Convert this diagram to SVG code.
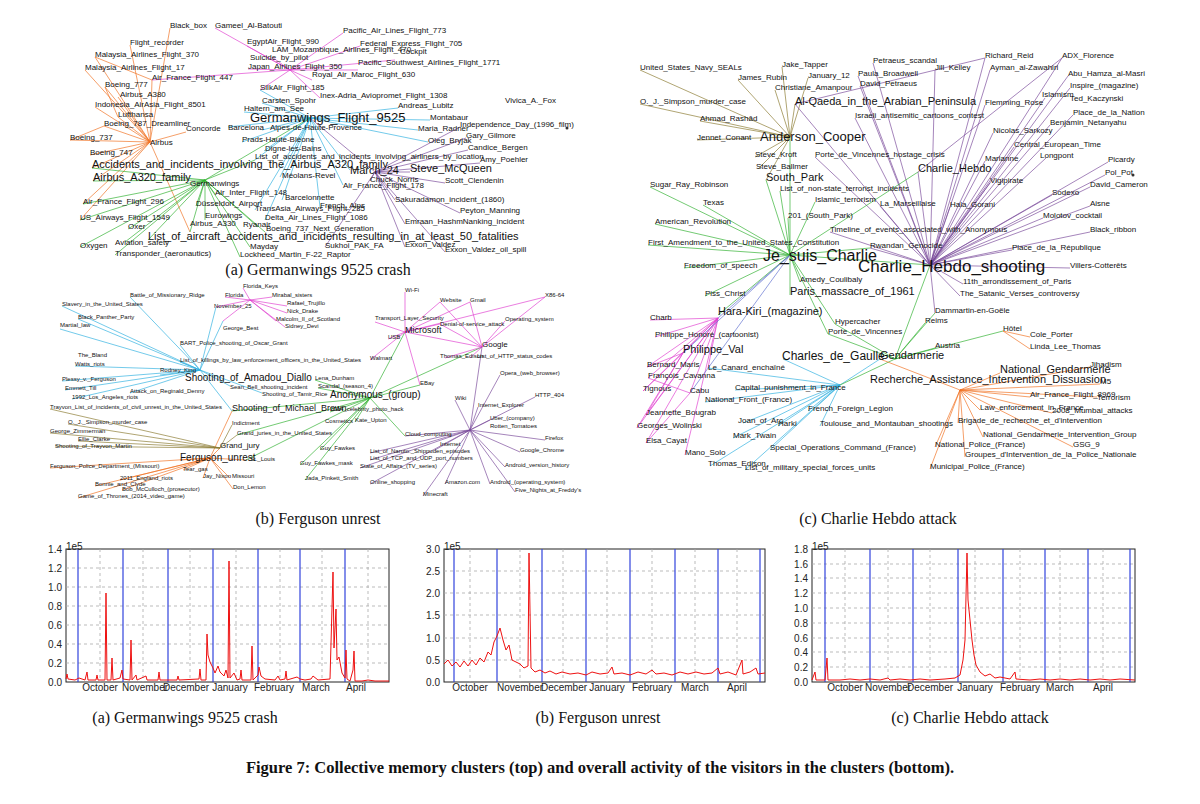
<svg xmlns="http://www.w3.org/2000/svg" width="1200" height="804" viewBox="0 0 1200 804">
<style>
text{font-family:"Liberation Sans",Arial,sans-serif;fill:#111}
.a{font-size:8px}.b{font-size:6px}.c{font-size:8px}
.big{font-size:13px}.mid{font-size:11px}.hb{font-size:16px}
.cap{font-family:"Liberation Serif","Times New Roman",serif;font-size:16px}
.ttl{font-family:"Liberation Serif","Times New Roman",serif;font-size:16.5px;font-weight:bold}
.e{fill:none;stroke-width:0.8;opacity:0.85}
.or{stroke:#f07020}.gr{stroke:#30b030}.cy{stroke:#30b0e0}.pu{stroke:#7a4a9a}.mg{stroke:#e040d0}.br{stroke:#8a7a30}.bl{stroke:#6070d0}
.ax text{font-size:10px;fill:#222}
.grid{stroke:#aaa;stroke-dasharray:3 3;stroke-width:0.8}
.mon{stroke:#3344dd;stroke-width:1.2}
.frame{fill:#fff;stroke:#222;stroke-width:1}
.sig{fill:none;stroke:#ee1111;stroke-width:1}
.d{fill:#333}
</style>
<rect width="1200" height="804" fill="#fff"/>
<g id="connectors">
<path class="e or" d="M150 142L170 28M150 142L130 45M150 142L95 57M150 142L85 70M150 142L152 80M150 142L105 87M150 142L118 97M150 142L95 107M150 142L118 117M150 142L104 126M150 142L70 140M150 142L186 132M150 142L90 155M150 142L92 168M150 142L93 181M150 142L83 204M150 142L80 220M150 142L190 232M118 117L105 87M104 126L70 140M152 80L95 57"/>
<path class="e mg" d="M290 70L215 28M290 70L343 33M290 70L247 46M290 70L360 46M290 70L272 57M290 70L395 60M290 70L248 69M290 70L358 70M290 70L312 80M290 70L260 90M290 70L152 80M290 70L320 98"/>
<path class="e cy" d="M310 118L262 103M310 118L398 108M310 118L244 112M310 118L430 120M310 118L228 127M310 118L262 130M310 118L418 130M310 118L242 142M310 118L428 142M310 118L264 151M310 118L255 160M310 118L280 177M310 118L343 185M310 118L282 200M310 118L320 207M310 118L265 220M310 118L255 210M310 118L350 170M310 118L260 90"/>
<path class="e gr" d="M205 180L92 168M205 180L93 181M205 180L215 194M205 180L196 206M205 180L205 220M205 180L190 232M205 180L128 229M205 180L148 240M205 180L80 247M205 180L125 242M205 180L250 247M205 180L115 255M205 180L240 257M205 180L265 232M205 180L258 227M205 180L255 160M205 180L310 118M205 180L83 204M205 180L80 220"/>
<path class="e pu" d="M375 172L460 127M375 172L466 138M375 172L468 150M375 172L480 163M375 172L410 172M375 172L370 181M375 172L445 183M375 172L395 200M375 172L460 213M375 172L405 224M375 172L325 247M375 172L405 247M375 172L445 252M375 172L310 118"/>
<path class="e cy" d="M200 370L130 297M200 370L180 345M200 370L180 362M200 370L160 375M200 370L230 386M200 370L262 393M200 370L232 411M200 370L130 393M200 370L72 399M200 370L62 381M200 370L65 390M200 370L75 366M200 370L78 319M200 370L62 306M200 370L60 329M200 370L216 307M200 370L223 321"/>
<path class="e mg" d="M250 300L243 288M250 300L225 297M250 300L272 297M250 300L287 306M250 300L287 313M250 300L276 321M250 300L285 327M250 300L216 307M250 300L223 321"/>
<path class="e gr" d="M370 398L315 380M370 398L318 388M370 398L330 412M370 398L355 422M370 398L320 450M370 398L300 465M370 398L305 480M370 398L237 435M370 398L246 460M370 398L232 411M370 398L420 385M370 398L405 436M370 398L405 332M370 398L482 347"/>
<path class="e or" d="M210 458L180 460M210 458L183 470M210 458L203 478M210 458L230 478M210 458L246 460M210 458L120 480M210 458L95 486M210 458L122 490M210 458L233 489M210 458L78 498M210 458L50 468M210 458L232 411M210 458L220 448"/>
<path class="e br" d="M220 448L50 409M220 448L68 424M220 448L50 433M220 448L55 446M220 448L78 441M220 448L232 425M220 448L237 435"/>
<path class="e mg" d="M405 332L405 292M405 332L440 302M405 332L470 302M405 332L545 297M405 332L375 322M405 332L440 324M405 332L388 339M405 332L370 360M405 332L420 385M482 347L440 302M482 347L470 302M482 347L545 297M482 347L505 321M482 347L440 324M482 347L445 358M482 347L470 358M482 347L405 332"/>
<path class="e pu" d="M470 430L482 347M470 430L500 375M470 430L455 400M470 430L478 407M470 430L535 397M470 430L490 420M470 430L405 436M470 430L545 440M470 430L520 452M470 430L435 450M470 430L505 467M470 430L445 484M470 430L490 484M470 430L515 492M470 430L423 496M470 430L370 484M470 430L360 468M470 430L370 460M470 430L370 453"/>
<path class="e br" d="M790 137L782 67M790 137L808 78M790 137L738 80M790 137L775 90M790 137L640 70M790 137L640 104M790 137L700 121M790 137L697 140M790 137L755 157M790 137L758 169M790 137L795 104M790 137L766 180"/>
<path class="e pu" d="M930 265L873 63M930 265L858 76M930 265L935 70M930 265L860 86M930 265L985 58M930 265L990 70M930 265L1062 58M930 265L1068 76M930 265L1070 88M930 265L1045 98M930 265L985 105M930 265L855 118M930 265L1073 115M930 265L1050 125M930 265L993 133M930 265L1014 147M930 265L985 161M930 265L1046 158M930 265L1108 162M930 265L918 172M930 265L990 183M930 265L1105 175M930 265L1090 187M930 265L950 207M930 265L1052 195M930 265L1090 206M930 265L1043 218M930 265L1090 232M930 265L1012 250M930 265L1070 268M930 265L963 284M930 265L960 296M930 265L935 313M930 265L880 206M930 265L830 232M930 265L870 248M930 265L815 157M930 265L795 104M918 172L1062 58M795 104L985 58"/>
<path class="e gr" d="M790 255L650 187M790 255L703 205M790 255L655 224M790 255L648 245M790 255L684 268M790 255L705 296M790 255L718 315M790 255L766 180M790 255L780 191M790 255L815 202M790 255L788 218M790 255L800 282M790 255L790 295M790 255L835 324M790 255L828 334M790 255L930 265M790 255L790 137M790 255L918 172M790 255L870 248"/>
<path class="e mg" d="M718 318L650 320M718 318L655 337M718 318L683 353M718 318L647 367M718 318L648 378M718 318L643 391M718 318L690 393M718 318L646 415M718 318L637 428M718 318L646 443M718 318L685 455M718 318L708 368M683 353L647 367M683 353L643 391M683 353L646 415M683 353L637 428M690 393L648 378M690 393L646 443"/>
<path class="e bl" d="M790 255L683 353M790 255L690 393M790 255L718 318"/>
<path class="e cy" d="M840 385L783 359M840 385L735 390M840 385L705 402M840 385L808 411M840 385L778 426M840 385L820 426M840 385L743 423M840 385L733 438M840 385L770 450M840 385L745 470M840 385L710 466M840 385L880 359M840 385L708 368"/>
<path class="e gr" d="M895 359L835 324M895 359L828 334M895 359L925 323M895 359L935 348M895 359L1003 331M895 359L935 313M895 359L840 385M895 359L930 265"/>
<path class="e or" d="M960 390L1000 373M960 390L1090 367M960 390L1100 384M960 390L1030 397M960 390L1097 397M960 390L980 410M960 390L1052 413M960 390L958 423M960 390L983 437M960 390L935 447M960 390L1073 447M960 390L965 457M960 390L930 469M960 390L880 359M1003 331L1030 337M1003 331L1030 349"/>
</g>
<g id="net-a" class="a">
<text x="170" y="28">Black_box</text><text x="215" y="28">Gameel_Al-Batouti</text><text x="343" y="33">Pacific_Air_Lines_Flight_773</text>
<text x="130" y="45">Flight_recorder</text><text x="247" y="44">EgyptAir_Flight_990</text><text x="360" y="46">Federal_Express_Flight_705</text>
<text x="95" y="57">Malaysia_Airlines_Flight_370</text><text x="272" y="52">LAM_Mozambique_Airlines_Flight_470</text><text x="250" y="60">Suicide_by_pilot</text><text x="400" y="54">Cockpit</text>
<text x="85" y="70">Malaysia_Airlines_Flight_17</text><text x="248" y="69">Japan_Airlines_Flight_350</text><text x="358" y="65">Pacific_Southwest_Airlines_Flight_1771</text>
<text x="312" y="77">Royal_Air_Maroc_Flight_630</text><text x="152" y="80">Air_France_Flight_447</text><text x="105" y="87">Boeing_777</text>
<text x="260" y="90">SilkAir_Flight_185</text><text x="120" y="97">Airbus_A380</text><text x="320" y="98">Inex-Adria_Aviopromet_Flight_1308</text>
<text x="95" y="107">Indonesia_AirAsia_Flight_8501</text><text x="262" y="103">Carsten_Spohr</text><text x="398" y="108">Andreas_Lubitz</text><text x="505" y="103">Vivica_A._Fox</text>
<text x="118" y="117">Lufthansa</text><text x="244" y="111">Haltern_am_See</text><text class="big" x="250" y="122">Germanwings_Flight_9525</text><text x="430" y="120">Montabaur</text>
<text x="104" y="126">Boeing_787_Dreamliner</text><text x="228" y="130">Barcelona</text><text x="270" y="130">Alpes-de-Haute-Provence</text><text x="460" y="127">Independence_Day_(1996_film)</text>
<text x="70" y="140">Boeing_737</text><text x="186" y="131">Concorde</text><text x="418" y="131">Maria_Radner</text><text x="150" y="145">Airbus</text>
<text x="242" y="142">Prads-Haute-Bléone</text><text x="466" y="138">Gary_Gilmore</text><text x="428" y="143">Oleg_Bryjak</text>
<text x="90" y="155">Boeing_747</text><text x="265" y="151">Digne-les-Bains</text><text x="255" y="159">List_of_accidents_and_incidents_involving_airliners_by_location</text><text x="468" y="150">Candice_Bergen</text>
<text class="mid" x="92" y="168">Accidents_and_incidents_involving_the_Airbus_A320_family</text><text x="480" y="162">Amy_Poehler</text>
<text class="mid" x="350" y="174">March_24</text><text class="mid" x="410" y="172">Steve_McQueen</text><text class="mid" x="93" y="181">Airbus_A320_family</text>
<text x="282" y="178">Méolans-Revel</text><text x="370" y="182">Chuck_Norris</text><text x="445" y="183">Scott_Clendenin</text>
<text x="343" y="188">Air_France_Flight_178</text><text x="190" y="186">Germanwings</text><text x="215" y="195">Air_Inter_Flight_148</text>
<text x="285" y="200">Barcelonnette</text><text x="83" y="204">Air_France_Flight_296</text><text x="196" y="206">Düsseldorf_Airport</text>
<text x="320" y="208">French_Alps</text><text x="395" y="202">Sakuradamon_incident_(1860)</text><text x="460" y="213">Peyton_Manning</text>
<text x="205" y="218">Eurowings</text><text x="255" y="211">TransAsia_Airways_Flight_235</text><text x="80" y="220">US_Airways_Flight_1549</text>
<text x="265" y="220">Delta_Air_Lines_Flight_1086</text><text x="266" y="231">Boeing_737_Next_Generation</text><text x="190" y="226">Airbus_A330</text><text x="243" y="227">Ryanair</text>
<text x="405" y="224">Emraan_HashmNanking_incident</text><text x="128" y="229">Oxer</text>
<text class="mid" x="148" y="240">List_of_aircraft_accidents_and_incidents_resulting_in_at_least_50_fatalities</text>
<text x="80" y="248">Oxygen</text><text x="115" y="245">Aviation_safety</text><text x="250" y="249">Mayday</text><text x="325" y="248">Sukhoi_PAK_FA</text>
<text x="115" y="256">Transponder_(aeronautics)</text><text x="240" y="257">Lockheed_Martin_F-22_Raptor</text><text x="405" y="247">Exxon_Valdez</text><text x="445" y="252">Exxon_Valdez_oil_spill</text>
<circle class="d" cx="567" cy="128" r="1.5"/>
</g>
<g id="net-b" class="b">
<text x="243" y="288">Florida_Keys</text><text x="130" y="297">Battle_of_Missionary_Ridge</text><text x="225" y="297">Florida</text><text x="272" y="297">Mirabal_sisters</text>
<text x="62" y="306">Slavery_in_the_United_States</text><text x="214" y="308">November_25</text><text x="287" y="305">Rafael_Trujillo</text><text x="287" y="313">Nick_Drake</text>
<text x="78" y="319">Black_Panther_Party</text><text x="223" y="330">George_Best</text><text x="276" y="321">Malcolm_II_of_Scotland</text>
<text x="60" y="327">Martial_law</text><text x="285" y="328">Sidney_Devi</text><text x="180" y="345">BART_Police_shooting_of_Oscar_Grant</text>
<text x="78" y="357">The_Bland</text><text x="75" y="366">Watts_riots</text><text x="180" y="362">List_of_killings_by_law_enforcement_officers_in_the_United_States</text>
<text x="185" y="381" style="font-size:10px">Shooting_of_Amadou_Diallo</text><text x="62" y="381">Plessy_v._Ferguson</text><text x="160" y="372">Rodney_King</text>
<text x="230" y="389">Sean_Bell_shooting_incident</text><text x="315" y="380">Lena_Dunham</text><text x="65" y="390">Emmett_Till</text><text x="130" y="393">Attack_on_Reginald_Denny</text>
<text x="318" y="388">Scandal_(season_4)</text><text x="262" y="396">Shooting_of_Tamir_Rice</text><text x="72" y="399">1992_Los_Angeles_riots</text>
<text x="50" y="409">Trayvon_List_of_incidents_of_civil_unrest_in_the_United_States</text><text style="font-size:9px" x="232" y="411">Shooting_of_Michael_Brown</text>
<text x="68" y="424">O._J._Simpson_murder_case</text><text x="232" y="425">Indictment</text><text x="237" y="435">Grand_juries_in_the_United_States</text>
<text x="325" y="423">Cosmetics</text><text x="50" y="433">George_Zimmerman</text><text x="78" y="441">Ellie_Clarke</text><text x="55" y="448">Shooting_of_Trayvon_Martin</text>
<text style="font-size:8px" x="220" y="448">Grand_jury</text><text x="320" y="450">Guy_Fawkes</text><text style="font-size:10px" x="180" y="461">Ferguson_unrest</text><text x="250" y="461">St._Louis</text>
<text x="300" y="465">Guy_Fawkes_mask</text><text x="50" y="468">Ferguson_Police_Department_(Missouri)</text><text x="183" y="471">Tear_gas</text>
<text x="203" y="478">Jay_Nixon</text><text x="232" y="478">Missouri</text><text x="305" y="480">Jada_Pinkett_Smith</text><text x="120" y="480">2011_England_riots</text>
<text x="95" y="486">Bonnie_and_Clyde</text><text x="122" y="491">Bob_McCulloch_(prosecutor)</text><text x="233" y="489">Don_Lemon</text><text x="78" y="498">Game_of_Thrones_(2014_video_game)</text>
<text x="405" y="292">Wi-Fi</text><text x="440" y="302">Website</text><text x="470" y="302">Gmail</text><text x="545" y="297">X86-64</text>
<text style="font-size:9px" x="405" y="333">Microsoft</text><text x="375" y="320">Transport_Layer_Security</text><text x="440" y="326">Denial-of-service_attack</text><text x="505" y="321">Operating_system</text>
<text style="font-size:8px" x="482" y="347">Google</text><text x="388" y="339">USB</text><text x="440" y="358">Thomas_Edison</text><text x="477" y="358">List_of_HTTP_status_codes</text>
<text x="370" y="360">Walmart</text><text x="420" y="385">EBay</text><text style="font-size:10px" x="330" y="398">Anonymous_(group)</text>
<text x="500" y="375">Opera_(web_browser)</text><text x="455" y="400">Wiki</text><text x="478" y="407">Internet_Explorer</text><text x="535" y="397">HTTP_404</text>
<text x="330" y="411">2014_celebrity_photo_hack</text><text x="355" y="422">Kate_Upton</text><text x="490" y="420">Uber_(company)</text><text x="490" y="428">Rotten_Tomatoes</text>
<text x="405" y="436">Cloud_computing</text><text x="545" y="440">Firefox</text><text x="520" y="452">Google_Chrome</text><text x="370" y="453">List_of_Naruto:_Shippuden_episodes</text>
<text x="370" y="460">List_of_TCP_and_UDP_port_numbers</text><text x="360" y="468">State_of_Affairs_(TV_series)</text><text x="440" y="446">Internet</text>
<text x="505" y="467">Android_version_history</text><text x="370" y="484">Online_shopping</text><text x="445" y="484">Amazon.com</text><text x="490" y="484">Android_(operating_system)</text>
<text x="515" y="492">Five_Nights_at_Freddy's</text><text x="423" y="496">Minecraft</text>
</g>
<g id="net-c" class="c">
<text x="640" y="70">United_States_Navy_SEALs</text><text x="782" y="67">Jake_Tapper</text><text x="808" y="78">January_12</text><text x="738" y="80">James_Rubin</text>
<text x="775" y="90">Christiane_Amanpour</text><text x="640" y="104">O._J._Simpson_murder_case</text><text class="mid" x="795" y="105">Al-Qaeda_in_the_Arabian_Peninsula</text>
<text x="700" y="121">Ahmad_Rashād</text><text class="big" x="760" y="141">Anderson_Cooper</text><text x="697" y="140">Jennet_Conant</text>
<text x="873" y="63">Petraeus_scandal</text><text x="858" y="76">Paula_Broadwell</text><text x="935" y="70">Jill_Kelley</text><text x="860" y="86">David_Petraeus</text>
<text x="985" y="58">Richard_Reid</text><text x="1062" y="58">ADX_Florence</text><text x="990" y="70">Ayman_al-Zawahiri</text><text x="1068" y="76">Abu_Hamza_al-Masri</text>
<text x="1070" y="88">Inspire_(magazine)</text><text x="1070" y="101">Ted_Kaczynski</text><text x="1042" y="97">Islamism</text><text x="985" y="105">Flemming_Rose</text>
<text x="855" y="118">Israeli_antisemitic_cartoons_contest</text><text x="1073" y="115">Place_de_la_Nation</text><text x="1050" y="125">Benjamin_Netanyahu</text>
<text x="993" y="133">Nicolas_Sarkozy</text><text x="1014" y="147">Central_European_Time</text><text x="755" y="157">Steve_Kroft</text>
<text x="815" y="157">Porte_de_Vincennes_hostage_crisis</text><text x="985" y="161">Marianne</text><text x="1040" y="158">Longpont</text><text x="1108" y="162">Picardy</text>
<text class="mid" x="766" y="181">South_Park</text><text x="756" y="169">Steve_Ballmer</text><text class="mid" x="918" y="172">Charlie_Hebdo</text><text x="990" y="183">Vigipirate</text>
<text x="1105" y="175">Pol_Pot</text><text x="1090" y="187">David_Cameron</text><text x="780" y="191">List_of_non-state_terrorist_incidents</text>
<text x="815" y="202">Islamic_terrorism</text><text x="880" y="206">La_Marseillaise</text><text x="950" y="207">Hala_Gorani</text><text x="1052" y="195">Sodexo</text><text x="1090" y="206">Aisne</text>
<text x="650" y="187">Sugar_Ray_Robinson</text><text x="703" y="205">Texas</text><text x="788" y="218">201_(South_Park)</text><text x="1043" y="218">Molotov_cocktail</text>
<text x="830" y="232">Timeline_of_events_associated_with_Anonymous</text><text x="1090" y="232">Black_ribbon</text><text x="655" y="224">American_Revolution</text>
<text x="648" y="245">First_Amendment_to_the_United_States_Constitution</text><text x="870" y="248">Rwandan_Genocide</text><text x="1012" y="250">Place_de_la_République</text>
<text class="hb" x="763" y="261">Je_suis_Charlie</text><text class="hb" x="858" y="272" style="font-size:17px">Charlie_Hebdo_shooting</text><text x="1070" y="268">Villers-Cotterêts</text>
<text x="684" y="268">Freedom_of_speech</text><text x="800" y="282">Amedy_Coulibaly</text><text class="mid" x="790" y="295">Paris_massacre_of_1961</text>
<text x="963" y="284">11th_arrondissement_of_Paris</text><text x="960" y="296">The_Satanic_Verses_controversy</text><text x="705" y="296">Piss_Christ</text>
<text x="935" y="313">Dammartin-en-Goële</text><text class="mid" x="718" y="315">Hara-Kiri_(magazine)</text><text x="835" y="324">Hypercacher</text><text x="925" y="323">Reims</text>
<text x="650" y="320">Charb</text><text x="828" y="334">Porte_de_Vincennes</text><text x="1003" y="331">Hôtel</text><text x="1030" y="337">Cole_Porter</text><text x="1030" y="349">Linda_Lee_Thomas</text>
<text x="655" y="337">Philippe_Honoré_(cartoonist)</text><text x="935" y="348">Austria</text><text class="mid" x="683" y="353">Philippe_Val</text><text class="mid" x="880" y="359">Gendarmerie</text>
<text x="1090" y="367">Jihadism</text><text x="647" y="367">Bernard_Maris</text><text style="font-size:12px" x="782" y="360">Charles_de_Gaulle</text><text x="648" y="378">François_Cavanna</text>
<text x="708" y="370">Le_Canard_enchaîné</text><text class="mid" x="1000" y="373">National_Gendarmerie</text><text x="643" y="391">Tignous</text><text x="690" y="393">Cabu</text>
<text class="mid" x="870" y="383">Recherche_Assistance_Intervention_Dissuasion</text><text x="1100" y="384">M5</text><text x="735" y="390">Capital_punishment_in_France</text>
<text x="1030" y="397">Air_France_Flight_8969</text><text x="1097" y="400">Terrorism</text><text x="705" y="402">National_Front_(France)</text>
<text x="980" y="410">Law_enforcement_in_France</text><text x="1052" y="413">2008_Mumbai_attacks</text><text x="646" y="415">Jeannette_Bougrab</text><text x="808" y="411">French_Foreign_Legion</text>
<text x="778" y="426">Harki</text><text x="820" y="426">Toulouse_and_Montauban_shootings</text><text x="958" y="423">Brigade_de_recherche_et_d'intervention</text>
<text x="637" y="428">Georges_Wolinski</text><text x="738" y="423">Joan_of_Arc</text><text x="983" y="437">National_Gendarmerie_Intervention_Group</text>
<text x="646" y="443">Elsa_Cayat</text><text x="733" y="438">Mark_Twain</text><text x="935" y="447">National_Police_(France)</text><text x="1073" y="447">GSG_9</text>
<text x="770" y="450">Special_Operations_Command_(France)</text><text x="965" y="457">Groupes_d'Intervention_de_la_Police_Nationale</text><text x="685" y="455">Mano_Solo</text>
<text x="745" y="470">List_of_military_special_forces_units</text><text x="930" y="469">Municipal_Police_(France)</text><text x="708" y="466">Thomas_Edison</text>
<circle class="d" cx="1133" cy="175" r="1.5"/>
</g>
<g id="captions-top">
<text class="cap" x="318" y="275" text-anchor="middle">(a) Germanwings 9525 crash</text>
<text class="cap" x="318" y="524" text-anchor="middle">(b) Ferguson unrest</text>
<text class="cap" x="878" y="524" text-anchor="middle">(c) Charlie Hebdo attack</text>
</g>
<g id="chart-a" class="ax">
<rect class="frame" x="66" y="549" width="323" height="133"/>
<path class="grid" d="M100 549V682M143 549V682M190 549V682M236 549V682M280 549V682M322 549V682M368 549V682M66 663H389M66 644H389M66 625H389M66 606H389M66 587H389M66 568H389"/>
<path class="mon" d="M78 549V682M123 549V682M168 549V682M213 549V682M258 549V682M300 549V682M345 549V682"/>
<path class="sig" d="M66 679L67 674L68 679L75 680L79 678L85 680L87 672L88 680L96 680L97 675L98 680L105 680L106 593L107 680L111 680L112 658L113 680L120 678L122 670L123 679L130 680L131 640L132 680L136 675L137 680L146 676L147 680L158 680L159 672L160 680L177 680L178 676L179 680L199 679L200 669L201 680L206 680L207 634L208 655L210 662L213 668L215 673L218 666L220 672L224 676L226 670L228 678L229 561L230 678L234 673L237 680L240 679L241 670L242 680L251 680L252 646L253 680L258 675L259 667L261 676L265 679L275 680L278 676L280 680L285 679L286 671L287 680L297 677L300 679L305 680L311 679L313 676L318 680L330 679L333 572L334 648L336 609L337 660L339 657L342 673L345 678L346 650L347 679L350 681L353 670L354 651L355 681L362 681L368 680L375 681L389 681"/>
<text x="62" y="686" text-anchor="end">0.0</text><text x="62" y="667" text-anchor="end">0.2</text><text x="62" y="648" text-anchor="end">0.4</text><text x="62" y="629" text-anchor="end">0.6</text><text x="62" y="610" text-anchor="end">0.8</text><text x="62" y="591" text-anchor="end">1.0</text><text x="62" y="572" text-anchor="end">1.2</text><text x="62" y="553" text-anchor="end">1.4</text><text x="66" y="550">1e5</text>
<text x="100" y="691" text-anchor="middle">October</text><text x="145" y="691" text-anchor="middle">November</text><text x="186" y="691" text-anchor="middle">December</text><text x="230" y="691" text-anchor="middle">January</text><text x="274" y="691" text-anchor="middle">February</text><text x="316" y="691" text-anchor="middle">March</text><text x="356" y="691" text-anchor="middle">April</text>
</g>
<g id="chart-b" class="ax">
<rect class="frame" x="444" y="549" width="321" height="133"/>
<path class="grid" d="M470 549V682M520 549V682M563 549V682M607 549V682M652 549V682M695 549V682M737 549V682M444 660H765M444 638H765M444 615H765M444 593H765M444 571H765"/>
<path class="mon" d="M454 549V682M497 549V682M542 549V682M586 549V682M630 549V682M675 549V682M718 549V682M760 549V682"/>
<path class="sig" d="M444 664L448 660L452 666L456 662L460 667L464 661L468 666L472 660L476 665L480 658L484 662L488 652L491 655L494 642L497 636L500 628L503 640L506 650L509 645L512 660L516 662L520 664L524 668L528 666L529 553L531 668L535 672L540 670L545 673L550 671L556 674L562 672L570 674L578 673L586 675L592 672L600 674L608 673L612 667L614 674L622 673L630 675L638 672L646 674L652 670L656 674L664 673L672 675L680 672L688 674L696 672L704 674L712 673L718 668L720 674L728 672L736 675L742 660L743 674L750 672L756 668L758 674L765 673"/>
<text x="440" y="686" text-anchor="end">0.0</text><text x="440" y="664" text-anchor="end">0.5</text><text x="440" y="642" text-anchor="end">1.0</text><text x="440" y="619" text-anchor="end">1.5</text><text x="440" y="597" text-anchor="end">2.0</text><text x="440" y="575" text-anchor="end">2.5</text><text x="440" y="553" text-anchor="end">3.0</text><text x="444" y="550">1e5</text>
<text x="470" y="691" text-anchor="middle">October</text><text x="520" y="691" text-anchor="middle">November</text><text x="564" y="691" text-anchor="middle">December</text><text x="607" y="691" text-anchor="middle">January</text><text x="652" y="691" text-anchor="middle">February</text><text x="695" y="691" text-anchor="middle">March</text><text x="737" y="691" text-anchor="middle">April</text>
</g>
<g id="chart-c" class="ax">
<rect class="frame" x="812" y="549" width="323" height="133"/>
<path class="grid" d="M845 549V682M888 549V682M930 549V682M975 549V682M1020 549V682M1060 549V682M1103 549V682M812 667H1135M812 652H1135M812 638H1135M812 623H1135M812 608H1135M812 593H1135M812 578H1135M812 564H1135"/>
<path class="mon" d="M825 549V682M870 549V682M913 549V682M958 549V682M1003 549V682M1045 549V682M1088 549V682M1130 549V682"/>
<path class="sig" d="M812 680L815 672L816 680L825 680L827 658L828 680L840 680L850 679L860 680L870 679L880 680L888 678L890 680L900 679L910 680L920 679L930 680L945 679L955 678L960 675L963 660L965 640L967 553L968 600L970 620L972 640L974 655L976 665L980 672L985 676L990 674L995 678L1000 677L1010 679L1015 672L1016 679L1030 680L1040 679L1050 680L1060 679L1070 680L1080 679L1090 680L1100 679L1110 680L1120 679L1135 680"/>
<text x="808" y="686" text-anchor="end">0.0</text><text x="808" y="671" text-anchor="end">0.2</text><text x="808" y="656" text-anchor="end">0.4</text><text x="808" y="642" text-anchor="end">0.6</text><text x="808" y="627" text-anchor="end">0.8</text><text x="808" y="612" text-anchor="end">1.0</text><text x="808" y="597" text-anchor="end">1.2</text><text x="808" y="582" text-anchor="end">1.4</text><text x="808" y="568" text-anchor="end">1.6</text><text x="808" y="553" text-anchor="end">1.8</text><text x="812" y="550">1e5</text>
<text x="845" y="691" text-anchor="middle">October</text><text x="888" y="691" text-anchor="middle">November</text><text x="930" y="691" text-anchor="middle">December</text><text x="975" y="691" text-anchor="middle">January</text><text x="1020" y="691" text-anchor="middle">February</text><text x="1060" y="691" text-anchor="middle">March</text><text x="1103" y="691" text-anchor="middle">April</text>
</g>
<g id="captions-bottom">
<text class="cap" x="185" y="723" text-anchor="middle">(a) Germanwings 9525 crash</text>
<text class="cap" x="598" y="723" text-anchor="middle">(b) Ferguson unrest</text>
<text class="cap" x="970" y="723" text-anchor="middle">(c) Charlie Hebdo attack</text>
<text class="ttl" x="600" y="773" text-anchor="middle">Figure 7: Collective memory clusters (top) and overall activity of the visitors in the clusters (bottom).</text>
</g>
</svg>
